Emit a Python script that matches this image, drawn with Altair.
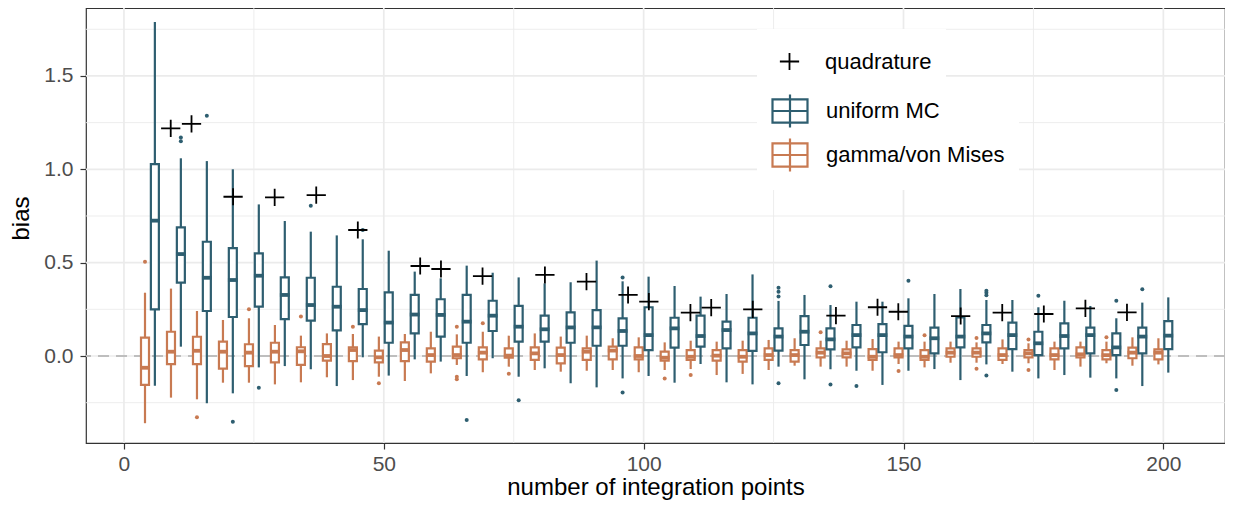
import altair as alt
import pandas as pd

# ---------------- data ----------------
n_points = list(range(5, 201, 5))

# gamma/von Mises boxes (lower whisker, q1, median, q3, upper whisker)
gvm_lo = [-0.36, -0.223, -0.232, -0.143, -0.143, -0.152, -0.141, -0.114, -0.129, -0.111,
          -0.134, -0.093, -0.048, -0.087, -0.057, -0.075, -0.084, -0.079, -0.075, -0.087,
          -0.075, -0.070, -0.102, -0.096, -0.075, -0.052, -0.057, -0.057, -0.079, -0.043,
          -0.061, -0.036, -0.036, -0.043, -0.039, -0.075, -0.057, -0.039, -0.052, -0.045]
gvm_q1 = [-0.155, -0.043, -0.043, -0.068, -0.054, -0.034, -0.048, -0.025, -0.027, -0.034,
          -0.027, -0.030, -0.012, -0.018, -0.009, -0.021, -0.039, -0.021, -0.018, -0.018,
          -0.025, -0.021, -0.025, -0.030, -0.021, -0.030, -0.007, -0.007, -0.021, -0.007,
          -0.021, -0.004, -0.004, -0.021, -0.007, -0.018, -0.007, -0.018, -0.012, -0.018]
gvm_med = [-0.063, 0.023, 0.028, 0.023, 0.018, 0.023, 0.025, 0.0, 0.032, -0.007,
           0.032, 0.005, 0.005, 0.018, 0.002, 0.014, 0.005, 0.023, 0.029, 0.0,
           -0.009, -0.004, 0.002, -0.004, 0.005, 0.005, 0.018, 0.014, -0.004, 0.005,
           -0.004, 0.018, 0.018, 0.005, 0.014, 0.005, 0.009, 0.005, 0.018, 0.018]
gvm_q3 = [0.098, 0.130, 0.103, 0.077, 0.063, 0.071, 0.047, 0.064, 0.047, 0.029,
          0.073, 0.041, 0.050, 0.046, 0.041, 0.046, 0.045, 0.041, 0.050, 0.046,
          0.023, 0.032, 0.032, 0.032, 0.041, 0.032, 0.041, 0.036, 0.037, 0.041,
          0.032, 0.041, 0.041, 0.041, 0.032, 0.041, 0.046, 0.032, 0.045, 0.036]
gvm_hi = [0.339, 0.361, 0.241, 0.193, 0.202, 0.166, 0.109, 0.121, 0.118, 0.104,
          0.118, 0.130, 0.116, 0.130, 0.109, 0.121, 0.104, 0.109, 0.095, 0.100,
          0.073, 0.082, 0.077, 0.082, 0.086, 0.095, 0.082, 0.082, 0.091, 0.077,
          0.077, 0.077, 0.073, 0.089, 0.068, 0.077, 0.077, 0.077, 0.100, 0.095]
gvm_out_n = [5, 15, 25, 35, 45, 50, 65, 65, 65, 70, 75, 105, 110, 135, 150, 155, 165, 165, 175, 175, 190]
gvm_out_v = [0.505, -0.328, 0.25, 0.211, 0.157, -0.146, 0.157, -0.111, -0.125, 0.175, -0.095,
             -0.121, -0.102, 0.127, -0.080, 0.111, 0.096, -0.068, 0.089, -0.075, 0.100]

# uniform MC boxes
umc_lo = [-0.159, 0.050, -0.253, -0.200, -0.061, -0.054, -0.071, -0.161, -0.007, -0.105,
          -0.018, -0.030, -0.107, -0.012, -0.111, -0.066, -0.146, -0.168, -0.120, -0.107,
          -0.143, -0.043, -0.141, -0.152, -0.057, -0.125, -0.071, -0.079, -0.155, -0.079,
          -0.070, -0.129, -0.045, -0.084, -0.120, -0.102, -0.116, -0.120, -0.161, -0.089]
umc_q1 = [0.250, 0.393, 0.241, 0.209, 0.264, 0.197, 0.189, 0.137, 0.171, 0.071,
          0.121, 0.104, 0.071, 0.134, 0.077, 0.077, 0.071, 0.055, 0.055, 0.032,
          0.045, 0.050, 0.041, 0.027, 0.029, 0.059, 0.036, 0.046, 0.020, 0.041,
          0.014, 0.046, 0.073, 0.037, 0.005, 0.041, 0.014, 0.005, 0.014, 0.037]
umc_med = [0.725, 0.546, 0.419, 0.407, 0.430, 0.327, 0.273, 0.264, 0.246, 0.179,
           0.222, 0.220, 0.184, 0.216, 0.157, 0.143, 0.153, 0.153, 0.134, 0.112,
           0.148, 0.107, 0.139, 0.121, 0.104, 0.130, 0.089, 0.112, 0.112, 0.104,
           0.095, 0.104, 0.121, 0.112, 0.068, 0.107, 0.112, 0.046, 0.104, 0.109]
umc_q3 = [1.028, 0.689, 0.612, 0.578, 0.550, 0.421, 0.419, 0.371, 0.359, 0.341,
          0.327, 0.304, 0.327, 0.296, 0.268, 0.216, 0.234, 0.246, 0.202, 0.261,
          0.205, 0.216, 0.184, 0.205, 0.148, 0.214, 0.148, 0.166, 0.171, 0.161,
          0.152, 0.207, 0.166, 0.179, 0.130, 0.175, 0.152, 0.121, 0.152, 0.187]
umc_hi = [1.789, 1.059, 1.044, 1.000, 0.812, 0.723, 0.666, 0.646, 0.625, 0.564,
          0.452, 0.416, 0.484, 0.446, 0.421, 0.389, 0.395, 0.511, 0.400, 0.425,
          0.375, 0.318, 0.332, 0.437, 0.295, 0.327, 0.273, 0.291, 0.291, 0.309,
          0.332, 0.359, 0.300, 0.300, 0.261, 0.296, 0.268, 0.202, 0.286, 0.314]
umc_out_n = [10, 10, 15, 20, 25, 35, 45, 65, 75, 95, 95, 125, 125, 125, 125, 135, 135, 140,
             150, 165, 165, 165, 165, 175, 190, 190, 195]
umc_out_v = [1.17, 1.15, 1.287, -0.352, -0.17, 0.805, 0.675, -0.343, -0.237, 0.421, -0.195,
             0.366, 0.344, 0.319, -0.146, 0.373, -0.152, -0.161, 0.403, 0.350, 0.339, 0.325,
             -0.104, 0.323, 0.296, -0.182, 0.357]

# quadrature
quad_n = [9, 13, 21, 29, 37, 45, 57, 61, 69, 81, 89, 97, 101, 109, 113, 121,
          137, 145, 149, 161, 169, 177, 185, 193]
quad_v = [1.219, 1.243, 0.853, 0.850, 0.862, 0.675, 0.482, 0.466, 0.428, 0.434, 0.398,
          0.327, 0.291, 0.232, 0.259, 0.250, 0.216, 0.261, 0.237, 0.214, 0.232, 0.225,
          0.255, 0.234]

methods = ["uniform MC", "gamma/von Mises"]
colors = ["#2E5E70", "#C87A52"]

x_major = [0, 50, 100, 150, 200]
x_minor = [25, 75, 125, 175]
y_major = [0.0, 0.5, 1.0, 1.5]
y_minor = [-0.25, 0.25, 0.75, 1.25, 1.75]

# ---------------- tables ----------------
boxes = pd.concat([
    pd.DataFrame({"n": n_points, "method": "gamma/von Mises", "lo": gvm_lo, "q1": gvm_q1,
                  "med": gvm_med, "q3": gvm_q3, "hi": gvm_hi}),
    pd.DataFrame({"n": n_points, "method": "uniform MC", "lo": umc_lo, "q1": umc_q1,
                  "med": umc_med, "q3": umc_q3, "hi": umc_hi}),
])
outliers = pd.concat([
    pd.DataFrame({"n": gvm_out_n, "method": "gamma/von Mises", "v": gvm_out_v}),
    pd.DataFrame({"n": umc_out_n, "method": "uniform MC", "v": umc_out_v}),
])
quad = pd.DataFrame({"n": quad_n, "v": quad_v, "series": "quadrature"})

FONT = "Liberation Sans"
DODGE = 0.95
dodge_expr = f"datum.n + (datum.method === 'uniform MC' ? {DODGE} : -{DODGE})"

xscale = alt.Scale(domain=[-6.34, 210.9], nice=False, zero=False)
yscale = alt.Scale(domain=[-0.466, 1.864], nice=False, zero=False)
cscale = alt.Scale(domain=methods, range=colors)

x_axis = alt.Axis(values=x_major, format="d", title="number of integration points", grid=False,
                  titleY=51, titleBaseline="alphabetic")
y_axis = alt.Axis(values=y_major, format=".1f", title="bias", grid=False,
                  titleX=-58, titleY=210, titleBaseline="alphabetic")

CROSS = "M-0.55,0H0.55M0,-0.49V0.49"
BOXSYM = "M-1,-0.66H1V0.66H-1Z M-1,0H1 M0,-0.94V0.94"

LW = 2.2

# ---------------- grid ----------------
gx_major = alt.Chart(pd.DataFrame({"g": x_major})).mark_rule(color="#EBEBEB", strokeWidth=1.7).encode(
    x=alt.X("g:Q", scale=xscale, axis=x_axis))
gx_minor = alt.Chart(pd.DataFrame({"g": x_minor})).mark_rule(color="#EBEBEB", strokeWidth=0.9).encode(
    x=alt.X("g:Q", scale=xscale))
gy_major = alt.Chart(pd.DataFrame({"g": y_major})).mark_rule(color="#EBEBEB", strokeWidth=1.7).encode(
    y=alt.Y("g:Q", scale=yscale, axis=y_axis))
gy_minor = alt.Chart(pd.DataFrame({"g": y_minor})).mark_rule(color="#EBEBEB", strokeWidth=0.9).encode(
    y=alt.Y("g:Q", scale=yscale))

zero = alt.Chart(pd.DataFrame({"z": [0.0]})).mark_rule(
    color="#BEBEBE", strokeWidth=2.2, strokeDash=[11, 7]).encode(y=alt.Y("z:Q", scale=yscale))

base = alt.Chart(boxes).transform_calculate(pos=dodge_expr)

whisk = base.mark_rule(strokeWidth=LW).encode(
    x=alt.X("pos:Q", scale=xscale),
    y=alt.Y("lo:Q", scale=yscale), y2="hi:Q",
    color=alt.Color("method:N", scale=cscale, legend=None))

box = base.mark_bar(size=8, fill="white", strokeWidth=LW, fillOpacity=1).encode(
    x=alt.X("pos:Q", scale=xscale),
    y=alt.Y("q1:Q", scale=yscale), y2="q3:Q",
    stroke=alt.Stroke("method:N", scale=cscale, legend=alt.Legend(
        title=None, orient="none", legendX=671, legendY=70, fillColor="white",
        padding=14, symbolType=BOXSYM, symbolSize=1225, symbolFillColor="white",
        symbolStrokeWidth=LW, labelFontSize=22, labelFont=FONT, labelColor="black",
        labelOffset=17, rowPadding=2, labelLimit=400)))

med = base.mark_tick(orient="horizontal", size=9.8, thickness=3.8, opacity=1).encode(
    x=alt.X("pos:Q", scale=xscale),
    y=alt.Y("med:Q", scale=yscale),
    color=alt.Color("method:N", scale=cscale, legend=None))

outl = alt.Chart(outliers).transform_calculate(pos=dodge_expr).mark_circle(size=16, opacity=1).encode(
    x=alt.X("pos:Q", scale=xscale),
    y=alt.Y("v:Q", scale=yscale),
    color=alt.Color("method:N", scale=cscale, legend=None))

quad_layer = alt.Chart(quad).mark_point(filled=False, color="black", strokeWidth=1.8,
                                        size=1225, opacity=1).encode(
    x=alt.X("n:Q", scale=xscale),
    y=alt.Y("v:Q", scale=yscale),
    shape=alt.Shape("series:N", scale=alt.Scale(domain=["quadrature"], range=[CROSS]),
                    legend=alt.Legend(title=None, orient="none", legendX=671, legendY=21,
                                      fillColor="white", padding=14, symbolSize=1225,
                                      symbolStrokeColor="black", symbolStrokeWidth=1.8,
                                      labelFontSize=22, labelFont=FONT, labelColor="black",
                                      labelOffset=17, labelLimit=400)))

chart = alt.layer(gx_minor, gy_minor, gx_major, gy_major, zero, whisk, box, med, outl, quad_layer).resolve_legend(
    stroke="independent", shape="independent"
).properties(
    width=1139, height=435,
    padding={"left": 78, "top": 0, "right": 0, "bottom": 57},
    autosize=alt.AutoSizeParams(type="none"),
).configure_view(
    stroke="#333333", strokeWidth=1.2
).configure_axis(
    domain=False, tickColor="#333333", tickWidth=1.2, tickSize=6,
    labelFont=FONT, labelFontSize=21, labelColor="#4D4D4D",
    titleFont=FONT, titleFontSize=24, titleColor="black", titleFontWeight="normal",
).configure_axisX(labelPadding=4).configure_axisY(labelPadding=7)

chart.save("out.html", embed_options={"renderer": "svg", "actions": False})
